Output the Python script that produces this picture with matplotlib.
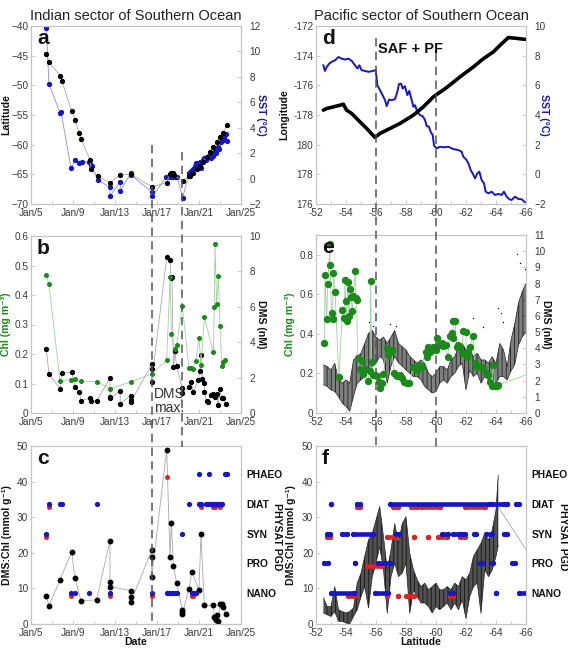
import numpy as np
import matplotlib
matplotlib.use('Agg')
import matplotlib.pyplot as plt
from matplotlib.lines import Line2D

plt.rcParams['font.family'] = ['Liberation Sans', 'DejaVu Sans']
plt.rcParams['hatch.linewidth'] = 0.6

# ---------------- DATA ----------------
date_ticks = [5, 9, 13, 17, 21, 25]
date_labels = ['Jan/5', 'Jan/9', 'Jan/13', 'Jan/17', 'Jan/21', 'Jan/25']
lat_ticks = [-52, -54, -56, -58, -60, -62, -64, -66]

# panel a: latitude and SST vs date (day of January)
a_lat_day = [6.46, 6.71, 7.76, 7.92, 8.87, 9.19, 9.57, 9.79, 10.62, 10.71, 11.35, 12.52, 13.5, 14.49,
             16.52, 17.92, 18.2, 18.35, 18.5, 18.6, 19.44, 20.05, 20.14, 20.46, 20.78, 21.1, 21.41,
             21.73, 22.05, 22.37, 22.68, 23.0, 23.32, 23.63]
a_lat = [-44.65, -46.06, -48.36, -49.2, -54.25, -55.76, -58.0, -59.07, -62.6, -64.1, -65.3, -66.4, -65.1,
         -64.96, -67.1, -66.4, -65.0, -64.7, -64.8, -65.1, -66.1, -65.3, -65.24, -64.73, -64.17, -63.56,
         -62.88, -62.04, -61.2, -60.36, -59.52, -58.68, -57.95, -56.71]
a_sst_day = [6.46, 6.71, 7.76, 7.86, 8.81, 9.19, 9.57, 9.82, 10.56, 10.68, 10.78, 11.35, 12.52, 12.52,
             13.5, 13.5, 14.49, 14.49, 16.52, 16.52, 17.9, 18.1, 18.3, 18.45, 18.6, 18.75, 18.9, 19.44,
             20.05, 20.25, 20.45, 20.6, 20.75, 20.9, 21.05, 21.2, 21.35, 21.5, 21.65, 21.8, 21.95, 22.1,
             22.25, 22.37, 22.5, 22.65, 22.8, 22.95, 23.1, 23.25, 23.4, 23.55, 23.63]
a_sst = [11.87, 7.47, 5.17, 5.25, 0.8, 1.5, 1.19, 1.32, 1.3, 1.1, 0.95, -0.1, -0.7, -1.38,
         -0.24, -0.98, 0.4, 0.3, -1.06, -1.38, 0.1, 0.1, 0.2, 0.15, 0.2, 0.1, 0.15, -1.49,
         0.4, 0.6, 0.75, 1.0, 1.25, 1.1, 1.3, 0.8, 1.45, 1.6, 1.5, 1.7, 1.75, 1.6,
         1.9, 1.8, 2.2, 2.0, 2.5, 2.3, 2.9, 3.0, 3.3, 3.5, 2.95]

# panel b: Chl and DMS vs date
b_chl_day = [6.46, 6.71, 7.76, 8.81, 9.19, 9.76, 11.25, 12.52, 14.49, 16.5, 17.92, 18.25, 18.37, 18.68,
             18.87, 19.41, 20.05, 20.25, 20.46, 20.68, 21.0, 21.19, 21.51, 22.37, 22.46, 22.52, 22.68,
             22.84, 23.0, 23.16, 23.32, 23.48]
b_chl = [0.467, 0.436, 0.110, 0.113, 0.115, 0.109, 0.106, 0.083, 0.105, 0.133, 0.179, 0.462, 0.268, 0.216,
         0.231, 0.363, 0.151, 0.151, 0.150, 0.175, 0.253, 0.163, 0.324, 0.206, 0.36, 0.574, 0.368,
         0.464, 0.295, 0.161, 0.173, 0.178]
b_dms_day = [6.46, 6.71, 7.76, 7.92, 8.87, 9.19, 9.57, 9.79, 10.6, 10.7, 11.25, 12.52, 12.52, 12.52,
             13.5, 13.5, 14.49, 14.49, 14.49, 16.5, 16.5, 16.5, 17.92, 18.24, 18.33, 18.43, 18.56, 18.7,
             18.87, 19.41, 19.41, 20.05, 20.24, 20.46, 20.94, 21.1, 21.19, 21.32, 21.51, 21.51, 21.73,
             21.9, 22.1, 22.3, 22.46, 22.52, 22.68, 22.84, 23.0, 23.16, 23.32, 23.54]
b_dms = [3.59, 2.23, 1.38, 2.25, 2.29, 1.49, 1.21, 0.69, 0.84, 0.65, 0.69, 1.97, 0.91, 0.82,
         1.25, 0.52, 0.97, 0.71, 0.6, 2.76, 2.51, 1.77, 8.79, 8.66, 7.63, 7.67, 2.6, 3.48,
         2.64, 1.4, 1.12, 1.45, 1.77, 1.21, 1.86, 2.38, 3.26, 1.92, 1.71, 1.17, 0.65,
         0.6, 1.0, 1.06, 1.0, 0.9, 1.06, 0.47, 1.36, 0.84, 0.84, 0.5]

# panel c: DMS:Chl vs date, PHYSAT groups
c_day = [6.46, 6.71, 7.76, 8.87, 9.19, 9.76, 11.25, 12.52, 12.52, 12.52, 14.49, 14.49, 14.49, 16.5,
         16.5, 16.5, 17.92, 18.24, 18.37, 18.56, 18.87, 19.41, 19.41, 19.41, 20.05, 20.3, 21.0, 21.19,
         21.51, 22.37, 22.46, 22.52, 22.6, 22.68, 22.84, 23.0, 23.16, 23.32, 23.54]
c_ratio = [7.74, 5.13, 12.4, 20.3, 12.9, 6.53, 6.8, 23.4, 11.9, 10.5, 9.4, 7.5, 6.1, 20.8,
           18.75, 13.3, 49.0, 18.9, 28.5, 16.4, 11.5, 4.0, 3.3, 2.8, 9.8, 14.6, 9.6, 25.2,
           5.2, 5.2, 2.0, 1.7, 1.2, 2.6, 0.75, 5.5, 5.7, 4.9, 2.8]
pgd_names = ['NANO', 'PRO', 'SYN', 'DIAT', 'PHAEO']
pgd_levels = [8.7, 17.0, 25.3, 33.7, 42.0]
c_blue_day = [6.46, 6.71, 7.76, 7.92, 8.81, 9.19, 10.55, 11.25, 12.52, 16.5, 17.92, 18.1, 18.3, 18.5,
              18.7, 18.9, 19.41, 20.05, 20.3, 20.46, 20.6, 20.75, 21.0, 21.0, 21.19, 21.65, 21.9,
              21.98, 22.15, 22.35, 22.5, 22.65, 22.8, 23.0, 23.15, 23.48, 23.63]
c_blue_pgd = ['SYN', 'DIAT', 'DIAT', 'DIAT', 'NANO', 'NANO', 'NANO', 'DIAT', 'NANO', 'NANO', 'NANO',
              'NANO', 'NANO', 'NANO', 'NANO', 'NANO', 'SYN', 'DIAT', 'NANO', 'NANO', 'NANO', 'NANO',
              'PHAEO', 'DIAT', 'DIAT', 'DIAT', 'DIAT', 'PHAEO', 'DIAT', 'DIAT', 'DIAT', 'DIAT', 'DIAT',
              'DIAT', 'DIAT', 'PHAEO', 'PHAEO']
c_red_day = [6.46, 6.71, 8.81, 12.52, 16.5, 17.92, 20.3, 20.46, 21.19, 22.37, 22.52, 23.0]
c_red_pgd = ['SYN', 'DIAT', 'NANO', 'NANO', 'NANO', 'PHAEO', 'NANO', 'NANO', 'DIAT', 'DIAT', 'DIAT', 'DIAT']

# panel d: longitude (degrees east, 0-360) and SST vs latitude
d_lon_lat = [-52.49, -52.71, -53.16, -53.6, -53.82, -54.04, -54.38, -54.93, -55.38, -55.93, -56.27,
             -56.93, -57.6, -58.49, -59.16, -59.82, -60.71, -61.6, -62.49, -63.16, -63.82, -64.27,
             -64.82, -65.16, -65.93]
d_lon = [182.33, 182.44, 182.55, 182.66, 182.73, 182.33, 182.10, 181.54, 181.09, 180.49, 180.76,
         181.09, 181.43, 181.99, 182.55, 183.22, 183.85, 184.57, 185.24, 185.80, 186.25, 186.70,
         187.22, 187.19, 187.10]
d_sst_lat = [-52.49, -52.6, -52.71, -52.89, -53.04, -53.27, -53.49, -53.71, -53.93, -54.16, -54.38,
             -54.6, -54.76, -54.89, -55.04, -55.27, -55.49, -55.71, -55.98, -56.09, -56.27, -56.44,
             -56.6, -56.71, -56.87, -57.04, -57.27, -57.42, -57.53, -57.67, -57.78, -57.93, -58.09,
             -58.22, -58.38, -58.49, -58.6, -58.76, -58.93, -59.11, -59.27, -59.38, -59.53, -59.64,
             -59.78, -59.87, -60.04, -60.27, -60.49, -60.82, -61.16, -61.49, -61.71, -61.82, -62.0,
             -62.16, -62.31, -62.44, -62.6, -62.76, -62.89, -63.04, -63.2, -63.31, -63.49, -63.71,
             -63.93, -64.16, -64.38, -64.53, -64.71, -64.89, -65.04, -65.27, -65.49, -65.71, -65.93]
d_sst = [7.35, 6.97, 7.24, 7.47, 7.58, 7.69, 7.91, 7.80, 7.74, 7.80, 7.65,
         7.35, 7.13, 7.35, 7.02, 6.97, 6.91, 6.95, 7.02, 6.01, 5.67, 5.34,
         5.0, 4.60, 5.04, 5.0, 5.07, 5.56, 6.08, 6.12, 5.78, 5.94, 5.34,
         5.63, 5.0, 4.55, 4.66, 4.22, 3.99, 3.92, 3.66, 3.25, 3.21, 2.87,
         2.65, 1.93, 1.75, 1.86, 1.82, 1.86, 1.70, 1.64, 1.52, 1.19, 1.01,
         0.74, 0.29, 0.07, -0.27, 0.07, 0.18, -0.38, -0.61, -1.17, -1.28, -1.17,
         -1.39, -1.32, -1.39, -1.17, -1.50, -1.68, -1.73, -1.50, -1.66, -1.68, -1.88]

# panel e: Chl and DMS vs latitude
e_chl_lat = [-52.56, -52.60, -52.71, -52.78, -52.93, -52.93, -53.04, -53.11, -53.16, -53.27, -53.53,
             -53.76, -53.89, -53.93, -53.98, -54.04, -54.11, -54.2, -54.27, -54.33, -54.42, -54.49,
             -54.6, -54.64, -54.71, -54.78, -54.93, -55.04, -55.16, -55.27, -55.44, -55.6, -55.64,
             -55.71, -55.82, -55.93, -56.04, -56.2, -56.27, -56.38, -56.49, -56.71, -56.82, -56.93,
             -57.04, -57.22, -57.33, -57.42, -57.6, -57.71, -57.87, -58.04, -58.22, -58.49, -58.71,
             -58.89, -59.04, -59.31, -59.38, -59.49, -59.6, -59.71, -59.82, -60.0, -60.09, -60.22,
             -60.38, -60.49, -60.64, -60.78, -60.93, -61.04, -61.11, -61.16, -61.27, -61.38, -61.49,
             -61.6, -61.71, -61.82, -61.98, -62.04, -62.16, -62.27, -62.44, -62.6, -62.76, -62.93,
             -63.16, -63.33, -63.49, -63.6, -63.71, -63.82, -63.93, -64.04, -64.16, -66.3]
e_chl = [0.356, 0.700, 0.473, 0.651, 0.852, 0.750, 0.508, 0.475, 0.710, 0.612, 0.180,
         0.520, 0.478, 0.671, 0.567, 0.465, 0.663, 0.492, 0.629, 0.587, 0.517, 0.591,
         0.716, 0.579, 0.570, 0.280, 0.221, 0.263, 0.196, 0.221, 0.164, 0.213, 0.666,
         0.257, 0.190, 0.193, 0.185, 0.159, 0.126, 0.151, 0.196, 0.327, 0.294, 0.310,
         0.319, 0.201, 0.193, 0.185, 0.193, 0.176, 0.156, 0.151, 0.151, 0.235, 0.218,
         0.243, 0.235, 0.310, 0.285, 0.332, 0.310, 0.322, 0.336, 0.319, 0.381, 0.344,
         0.352, 0.339, 0.344, 0.285, 0.389, 0.406, 0.377, 0.465, 0.465, 0.336, 0.344,
         0.336, 0.302, 0.414, 0.411, 0.285, 0.310, 0.336, 0.389, 0.252, 0.235, 0.238,
         0.227, 0.201, 0.193, 0.159, 0.138, 0.243, 0.134, 0.138, 0.143, 0.200]
e_dms_lat = [-52.5, -52.75, -53.0, -53.25, -53.5, -53.75, -54.0, -54.25, -54.5, -54.75,
             -55.0, -55.25, -55.5, -55.75, -56.0, -56.25, -56.5, -56.75, -57.0, -57.25,
             -57.5, -57.75, -58.0, -58.25, -58.5, -58.75, -59.0, -59.25, -59.5, -59.75,
             -60.0, -60.25, -60.5, -60.75, -61.0, -61.25, -61.5, -61.75, -62.0, -62.25,
             -62.5, -62.75, -63.0, -63.25, -63.5, -63.75, -64.0, -64.25, -64.5, -64.75,
             -65.0, -65.25, -65.5, -65.75, -66.0]
e_dms_lo = [1.74, 1.64, 1.43, 1.33, 1.02, 0.61, 0.41, 0.10, 1.02, 1.84,
            2.05, 2.25, 2.66, 2.90, 3.07, 3.50, 3.30, 1.84, 2.90, 3.50,
            3.10, 2.90, 2.66, 2.46, 2.25, 2.25, 2.05, 1.64, 1.43, 1.23,
            1.33, 1.84, 2.05, 1.84, 2.25, 2.46, 2.87, 3.07, 1.43, 2.66,
            2.25, 2.46, 1.84, 2.25, 2.05, 2.25, 1.84, 2.25, 2.25, 2.05,
            2.60, 3.00, 4.20, 4.70, 5.00]
e_dms_hi = [2.97, 2.87, 2.66, 3.07, 2.05, 1.84, 2.05, 1.84, 3.28, 3.48,
            3.69, 4.30, 4.92, 5.10, 4.70, 4.50, 4.70, 4.30, 4.70, 5.10,
            4.30, 4.10, 3.90, 3.50, 3.28, 3.07, 3.28, 3.07, 2.46, 2.25,
            2.46, 2.87, 2.87, 2.66, 3.28, 3.48, 4.10, 4.30, 3.90, 3.90,
            3.48, 3.69, 3.28, 3.28, 3.07, 3.48, 3.07, 4.30, 3.90, 2.87,
            4.50, 5.50, 6.80, 7.50, 8.00]
e_out_lat = [-55.55, -55.8, -56.95, -57.3, -62.45, -63.1, -64.1, -64.35, -64.45, -65.38, -65.6, -65.9]
e_out_dms = [5.6, 5.4, 5.5, 5.4, 5.9, 5.3, 6.5, 6.2, 5.6, 9.8, 9.3, 8.9]

# panel f: DMS:Chl vs latitude, PHYSAT group rows (start, end latitude)
f_lat = [-52.5, -52.75, -53.0, -53.25, -53.5, -53.75, -54.0, -54.25, -54.5, -54.75,
         -55.0, -55.25, -55.5, -55.75, -56.0, -56.25, -56.5, -56.75, -57.0, -57.25,
         -57.5, -57.75, -58.0, -58.25, -58.5, -58.75, -59.0, -59.25, -59.5, -59.75,
         -60.0, -60.25, -60.5, -60.75, -61.0, -61.25, -61.5, -61.75, -62.0, -62.25,
         -62.5, -62.75, -63.0, -63.25, -63.5, -63.75, -64.0, -64.15]
f_lo = [3.1, 2.6, 2.1, 3.5, 0.75, 0.75, 0.3, 0.0, 2.1, 4.0,
        7.7, 10.5, 4.5, 13.3, 17.1, 21.7, 15.2, 3.0, 13.3, 17.1,
        13.3, 14.3, 17.1, 3.0, 9.6, 7.7, 5.9, 5.9, 4.9, 3.1,
        4.9, 4.0, 4.9, 5.9, 4.0, 5.9, 4.0, 6.8, 1.5, 7.7,
        10.5, 11.5, 3.0, 15.2, 13.3, 15.2, 19.0, 22.0]
f_hi = [7.3, 4.9, 4.9, 10.5, 4.0, 3.5, 3.1, 3.5, 4.5, 11.5,
        14.3, 19.0, 23.6, 25.4, 29.2, 33.0, 24.5, 15.2, 20.8, 28.2,
        22.7, 28.2, 30.1, 19.9, 15.2, 12.4, 10.5, 11.5, 9.6, 10.5,
        11.5, 9.6, 9.6, 10.5, 9.6, 11.5, 10.5, 13.3, 12.4, 14.3,
        19.0, 20.8, 22.7, 25.4, 23.6, 26.4, 32.0, 41.8]
f_tail_lat = [-64.15, -66.3]
f_tail_val = [32.9, 19.0]
f_blue_nano = [(-53.0, -54.5), (-55.9, -56.8), (-60.95, -61.1), (-64.0, -64.0), (-65.5, -66.0)]
f_blue_pro = [(-52.5, -52.8), (-54.6, -54.6), (-56.1, -57.0), (-62.95, -63.05), (-63.7, -63.8), (-65.05, -65.25)]
f_blue_syn = [(-52.7, -52.95), (-53.7, -54.05), (-54.45, -55.8), (-57.35, -57.55), (-60.4, -60.8),
              (-61.1, -61.5), (-61.7, -61.9), (-62.5, -62.65), (-63.3, -63.7), (-64.5, -64.75)]
f_blue_diat = [(-53.0, -53.0), (-54.7, -54.9), (-56.9, -63.5), (-63.7, -64.5), (-64.75, -64.75), (-65.3, -65.5)]
f_red_nano = [(-54.15, -54.5), (-56.75, -56.75), (-57.45, -57.45), (-58.0, -58.55), (-60.95, -61.1)]
f_red_pro = [(-55.4, -56.4)]
f_red_syn = [(-52.7, -52.9), (-56.7, -57.3), (-58.5, -58.5), (-59.45, -59.45), (-60.1, -60.7), (-61.6, -61.9)]
f_red_diat = [(-54.7, -54.9), (-57.1, -57.45), (-58.35, -58.7), (-59.0, -60.25), (-61.95, -63.25)]

# front positions
left_fronts = [16.52, 19.38]
right_fronts = [-56, -60]

# ---------------- STYLE ----------------
W, H = 568, 650
BLUE = '#1616c8'
LBLUE = '#8a8ae8'
GREEN = '#1b8a1b'
LGREEN = '#9fd09f'
RED = '#e02222'
GRAYL = '#a8a8a8'
SPINE = '#c4c4c4'
TICKC = '#3a3a3a'
TLS = 7.2

fig = plt.figure(figsize=(W / 100, H / 100), dpi=100)


def ax_at(x0, y0, x1, y1):
    return fig.add_axes([x0 / W, 1 - y1 / H, (x1 - x0) / W, (y1 - y0) / H])


def style(ax, right=False):
    for s in ax.spines.values():
        s.set_color(SPINE)
        s.set_linewidth(0.8)
    ax.tick_params(which='both', direction='in', color=SPINE, labelcolor=TICKC,
                   labelsize=TLS, width=0.6)
    ax.tick_params(which='major', length=3)
    ax.tick_params(which='minor', length=2)
    ax.tick_params(axis='y', pad=2)
    ax.tick_params(axis='x', pad=3)
    if right:
        ax.tick_params(axis='y', pad=6)


def date_axis(ax):
    ax.set_xlim(5, 25)
    ax.set_xticks(date_ticks)
    ax.set_xticklabels(date_labels)
    ax.set_xticks(np.arange(7, 25, 4), minor=True)


def lat_axis(ax):
    ax.set_xlim(-52, -66)
    ax.set_xticks(lat_ticks)
    ax.set_xticklabels([f'{v:d}' for v in lat_ticks])
    ax.set_xticks(np.arange(-53, -66, -2), minor=True)


def ftext(x, y, s, **kw):
    fig.text(x / W, 1 - y / H, s, ha='center', va='center', **kw)


def letter(ax, s):
    ax.text(0.028, 0.9, s, transform=ax.transAxes, fontsize=15, fontweight='bold',
            va='baseline', ha='left', color='#111111', zorder=20)


def pgd_right(ax):
    ax2 = ax.twinx()
    ax2.set_ylim(0, 50)
    ax2.set_yticks(pgd_levels)
    ax2.set_yticklabels(pgd_names, fontweight='bold', color='#111111', fontsize=7.4)
    style(ax2, right=True)
    ax2.tick_params(axis='y', length=0, pad=4, labelcolor='#111111', labelsize=7.4)
    return ax2


def lvl(name):
    return pgd_levels[pgd_names.index(name)]


def rows(ax, segs, name, color, dy):
    y = lvl(name) + dy
    for s, e in segs:
        ax.plot([s, e], [y, y], color=color, lw=3.3, solid_capstyle='round',
                marker='o', ms=3.8, mew=0, zorder=6)


def noisy_band(ax, x, lo, hi, alpha, z):
    ax.fill_between(x, lo, hi, facecolor='#000000', alpha=alpha, lw=0, zorder=z)
    ax.fill_between(x, lo, hi, facecolor='none', edgecolor='#000000', hatch='||||',
                    lw=0, alpha=0.75, zorder=z)
    ax.plot(x, lo, color='#222222', lw=0.5, zorder=z)
    ax.plot(x, hi, color='#222222', lw=0.5, zorder=z)


# ---------------- PANEL a ----------------
ax_a = ax_at(31, 26, 241, 204)
ax_a2 = ax_a.twinx()
ax_a2.plot(a_sst_day, a_sst, color=LBLUE, lw=0.6, marker='o', ms=2.8, mfc=BLUE, mec=BLUE)
ax_a.plot(a_lat_day, a_lat, color=GRAYL, lw=0.6, marker='o', ms=2.8, mfc='k', mec='k')
ax_a.set_zorder(ax_a2.get_zorder() + 1)
ax_a.patch.set_visible(False)
ax_a.set_ylim(-70, -40)
ax_a.set_yticks(np.arange(-70, -39, 5))
ax_a2.set_ylim(-2, 12)
ax_a2.set_yticks(np.arange(-2, 13, 2))
date_axis(ax_a)
style(ax_a)
style(ax_a2, right=True)
letter(ax_a, 'a')

# ---------------- PANEL b ----------------
ax_b = ax_at(31, 236, 241, 413)
ax_b2 = ax_b.twinx()
ax_b2.plot(b_dms_day, b_dms, color=GRAYL, lw=0.6, marker='o', ms=2.8, mfc='k', mec='k')
ax_b.plot(b_chl_day, b_chl, color=LGREEN, lw=0.6, marker='o', ms=2.6, mfc=GREEN, mec=GREEN)
ax_b.set_zorder(ax_b2.get_zorder() + 1)
ax_b.patch.set_visible(False)
ax_b.set_ylim(0, 0.6)
ax_b.set_yticks(np.arange(0, 0.61, 0.1))
ax_b.set_yticklabels(['0', '0.1', '0.2', '0.3', '0.4', '0.5', '0.6'])
ax_b2.set_ylim(0, 10)
ax_b2.set_yticks(np.arange(0, 11, 2))
date_axis(ax_b)
style(ax_b)
style(ax_b2, right=True)
letter(ax_b, 'b')
ax_b.text(16.71, 0.052, 'DMS', fontsize=10, color='#333333', va='baseline', ha='left', zorder=15)
ax_b.text(16.71, 0.004, 'max.', fontsize=10, color='#333333', va='baseline', ha='left', zorder=15)

# ---------------- PANEL c ----------------
ax_c = ax_at(31, 446, 241, 624)
ax_c.plot(c_day, c_ratio, color=GRAYL, lw=0.6, marker='o', ms=3.2, mfc='k', mec='k', zorder=4)
for d, p in zip(c_red_day, c_red_pgd):
    ax_c.plot(d, lvl(p) - 0.8, 'o', color=RED, ms=3.6, mew=0, zorder=5)
for d, p in zip(c_blue_day, c_blue_pgd):
    ax_c.plot(d, lvl(p), 'o', color=BLUE, ms=3.8, mew=0, zorder=6)
ax_c.set_ylim(0, 50)
ax_c.set_yticks(np.arange(0, 51, 10))
date_axis(ax_c)
style(ax_c)
pgd_right(ax_c)
letter(ax_c, 'c')

# ---------------- PANEL d ----------------
ax_d = ax_at(316, 26, 526, 204)
ax_d2 = ax_d.twinx()
ax_d2.plot(d_sst_lat, d_sst, color=BLUE, lw=1.4)
ax_d.plot(d_lon_lat, d_lon, color='k', lw=2.6, solid_capstyle='round')
ax_d.set_zorder(ax_d2.get_zorder() + 1)
ax_d.patch.set_visible(False)
ax_d.set_ylim(176, 188)
lon_ticks = list(range(176, 189, 2))
ax_d.set_yticks(lon_ticks)
ax_d.set_yticklabels([f'{v:d}' if v <= 180 else f'{v - 360:d}' for v in lon_ticks])
ax_d2.set_ylim(-2, 10)
ax_d2.set_yticks(np.arange(-2, 11, 2))
lat_axis(ax_d)
style(ax_d)
style(ax_d2, right=True)
letter(ax_d, 'd')
ax_d.text(-56.15, 186.18, 'SAF + PF', fontsize=10.5, fontweight='bold', color='#111111',
          va='baseline', ha='left', zorder=15)

# ---------------- PANEL e ----------------
ax_e = ax_at(316, 235, 526, 413)
ax_e2 = ax_e.twinx()
noisy_band(ax_e2, e_dms_lat, e_dms_lo, e_dms_hi, 0.5, 2)
ax_e2.plot(e_out_lat, e_out_dms, 'o', color='k', ms=1.0, mew=0)
ax_e.plot(e_chl_lat, e_chl, color=LGREEN, lw=0.6, marker='o', ms=4.3, mfc=GREEN, mec=GREEN)
ax_e.set_zorder(ax_e2.get_zorder() + 1)
ax_e.patch.set_visible(False)
ax_e.set_ylim(0, 0.9)
ax_e.set_yticks([0, 0.2, 0.4, 0.6, 0.8])
ax_e.set_yticklabels(['0', '0.2', '0.4', '0.6', '0.8'])
ax_e2.set_ylim(0, 11)
ax_e2.set_yticks(np.arange(0, 12, 1))
lat_axis(ax_e)
style(ax_e)
style(ax_e2, right=True)
letter(ax_e, 'e')

# ---------------- PANEL f ----------------
ax_f = ax_at(316, 446, 526, 624)
noisy_band(ax_f, f_lat, f_lo, f_hi, 0.68, 3)
ax_f.plot(f_tail_lat, f_tail_val, color=GRAYL, lw=0.6, zorder=3)
rows(ax_f, f_red_nano, 'NANO', RED, -0.8)
rows(ax_f, f_red_pro, 'PRO', RED, -0.8)
rows(ax_f, f_red_syn, 'SYN', RED, -0.8)
rows(ax_f, f_red_diat, 'DIAT', RED, -0.8)
rows(ax_f, f_blue_nano, 'NANO', BLUE, 0)
rows(ax_f, f_blue_pro, 'PRO', BLUE, 0)
rows(ax_f, f_blue_syn, 'SYN', BLUE, 0)
rows(ax_f, f_blue_diat, 'DIAT', BLUE, 0)
ax_f.set_ylim(0, 50)
ax_f.set_yticks(np.arange(0, 51, 10))
lat_axis(ax_f)
style(ax_f)
pgd_right(ax_f)
letter(ax_f, 'f')

# ---------------- LABELS ----------------
lab = dict(fontsize=7.6, fontweight='bold')
ftext(136, 16, 'Indian sector of Southern Ocean', fontsize=10.5, color='#222222')
ftext(421, 16, 'Pacific sector of Southern Ocean', fontsize=10.5, color='#222222')
ftext(6, 115, 'Latitude', rotation=90, color='#111111', **lab)
ftext(261, 115, 'SST (°C)', rotation=270, color=BLUE, **lab)
ftext(284, 115, 'Longitude', rotation=90, color='#111111', **lab)
ftext(544, 115, 'SST (°C)', rotation=270, color=BLUE, **lab)
ftext(6, 324, 'Chl (mg m⁻³)', rotation=90, color=GREEN, **lab)
ftext(261, 324, 'DMS (nM)', rotation=270, color='#111111', **lab)
ftext(290, 324, 'Chl (mg m⁻³)', rotation=90, color=GREEN, **lab)
ftext(546, 324, 'DMS (nM)', rotation=270, color='#111111', **lab)
ftext(7, 535, 'DMS:Chl (mmol g⁻¹)', rotation=90, color='#111111', **lab)
ftext(277, 537, 'PHYSAT PGD', rotation=270, color='#111111', **lab)
ftext(291, 535, 'DMS:Chl (mmol g⁻¹)', rotation=90, color='#111111', **lab)
ftext(563, 537, 'PHYSAT PGD', rotation=270, color='#111111', **lab)
ftext(136, 642, 'Date', color='#111111', **lab)
ftext(421, 642, 'Latitude', color='#111111', **lab)

# ---------------- FRONT LINES ----------------
inv = fig.transFigure.inverted()


def xfig(ax, x):
    return inv.transform(ax.transData.transform((x, ax.get_ylim()[0])))[0]


def vdash(xf, ytop, ybot):
    fig.add_artist(Line2D([xf, xf], [1 - ytop / H, 1 - ybot / H], transform=fig.transFigure,
                          color='#555555', lw=1.1, dashes=(5.5, 3.5), zorder=30))


vdash(xfig(ax_b, left_fronts[0]), 145, 622)
vdash(xfig(ax_b, left_fronts[1]), 152, 447)
vdash(xfig(ax_e, right_fronts[0]), 38, 447)
vdash(xfig(ax_e, right_fronts[1]), 53, 447)

fig.savefig('out.png', dpi=100)
